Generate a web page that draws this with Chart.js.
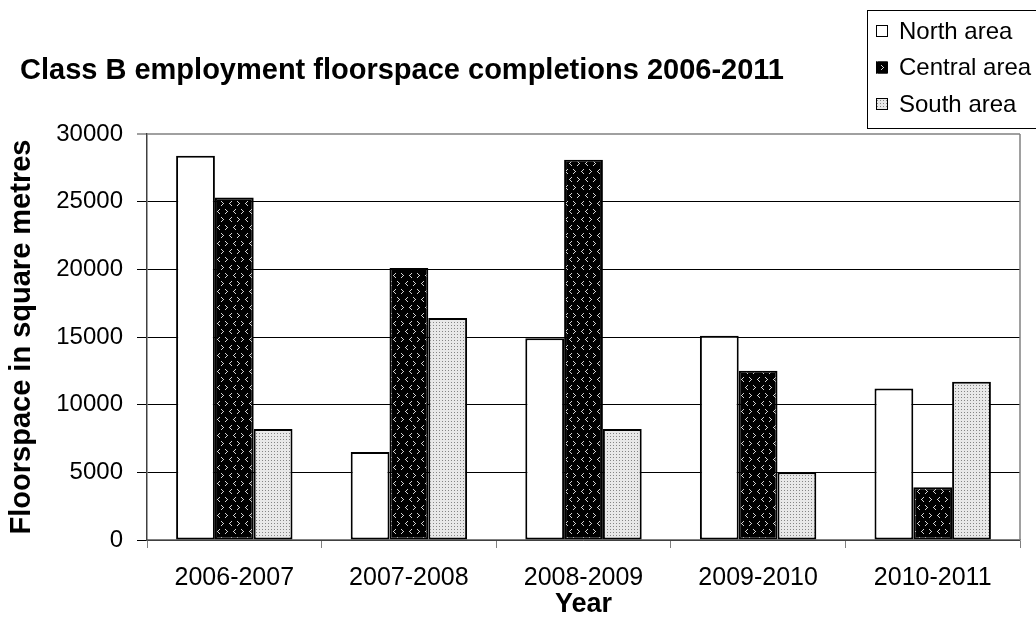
<!DOCTYPE html>
<html>
<head>
<meta charset="utf-8">
<script src="https://cdn.jsdelivr.net/npm/chart.js@4.4.0/dist/chart.umd.min.js"></script>
<style>
  html, body { margin: 0; padding: 0; background: #fff; }
  #wrap { width: 1036px; height: 622px; position: relative; }
</style>
</head>
<body>
<div id="wrap"><canvas id="chart"></canvas></div>
<script>
// --- data ---
const years = ['2006-2007', '2007-2008', '2008-2009', '2009-2010', '2010-2011'];
const northArea = [28400, 6500, 14900, 15100, 11200];
const centralArea = [25300, 20100, 28100, 12500, 3900];
const southArea = [8200, 16400, 8200, 5000, 11700];
const seriesNames = ['North area', 'Central area', 'South area'];
const yMin = 0, yMax = 30000, yStep = 5000;

const FONT = "'Liberation Sans', Arial, sans-serif";

// --- fill patterns (Excel style) ---
function makePattern(w, h, bg, color, pixels) {
    const c = document.createElement('canvas');
    c.width = w; c.height = h;
    const g = c.getContext('2d');
    g.fillStyle = bg;
    g.fillRect(0, 0, w, h);
    g.fillStyle = color;
    pixels.forEach(p => g.fillRect(p[0], p[1], 1, 1));
    return g.createPattern(c, 'repeat');
}

// black with little grey chevrons
const chevronPattern = makePattern(16, 16, '#000', '#d4d4d4', [
    [1, 1], [2, 2], [3, 3], [2, 4], [1, 5],        // >
    [11, 1], [10, 2], [9, 3], [10, 4], [11, 5],    // <
    [7, 9], [6, 10], [5, 11], [6, 12], [7, 13],    // <
    [13, 9], [14, 10], [15, 11], [14, 12], [13, 13] // >
]);
// light grey dots
const dotPattern = makePattern(3, 3, '#e8e8e8', '#858585', [[1, 1]]);

const fills = ['#ffffff', chevronPattern, dotPattern];

// right side of the plot frame
const plotFrame = {
    id: 'plotFrame',
    beforeDatasetsDraw(chart) {
        const { ctx, chartArea } = chart;
        ctx.save();
        ctx.strokeStyle = '#808080';
        ctx.lineWidth = 1.5;
        ctx.beginPath();
        ctx.moveTo(chartArea.right, chartArea.top);
        ctx.lineTo(chartArea.right, chartArea.bottom);
        ctx.stroke();
        ctx.restore();
    }
};

// boxed legend in the top right corner
const boxedLegend = {
    id: 'boxedLegend',
    afterDraw(chart) {
        const ctx = chart.ctx;
        const left = 867, top = 10, width = 175, height = 118;
        ctx.save();
        ctx.fillStyle = '#fff';
        ctx.fillRect(left, top, width, height);
        ctx.strokeStyle = '#000';
        ctx.lineWidth = 1;
        ctx.strokeRect(left + 0.5, top + 0.5, width, height);
        ctx.font = '24px ' + FONT;
        ctx.textBaseline = 'middle';
        chart.data.datasets.forEach((ds, i) => {
            const cy = 31 + i * 36.5;
            ctx.fillStyle = ds.backgroundColor;
            ctx.fillRect(876, cy - 6, 12, 12);
            ctx.strokeStyle = '#000';
            ctx.lineWidth = 1;
            ctx.strokeRect(876.5, cy - 5.5, 11, 11);
            ctx.fillStyle = '#000';
            ctx.fillText(ds.label, 899, cy + 1);
        });
        ctx.restore();
    }
};

const ctx = document.getElementById('chart').getContext('2d');
new Chart(ctx, {
    type: 'bar',
    data: {
        labels: years,
        datasets: [northArea, centralArea, southArea].map((vals, i) => ({
            label: seriesNames[i],
            data: vals,
            backgroundColor: fills[i],
            borderColor: '#000',
            borderWidth: 2,
            borderSkipped: false,
            categoryPercentage: 2 / 3,
            barPercentage: 1
        }))
    },
    options: {
        responsive: true,
        maintainAspectRatio: false,
        animation: false,
        layout: { padding: { left: 20, right: 16, top: 0, bottom: 0 } },
        plugins: {
            legend: { display: false },
            tooltip: { enabled: false },
            title: {
                display: true,
                text: 'Class B employment floorspace completions 2006-2011',
                align: 'start',
                color: '#000',
                font: { family: FONT, size: 29, weight: 'bold' },
                padding: { top: 53.6, bottom: 45.6 }
            }
        },
        scales: {
            x: {
                grid: { drawOnChartArea: false, tickLength: 8, color: '#808080' },
                border: { color: '#808080', width: 1.5 },
                ticks: { color: '#000', padding: 15, font: { family: FONT, size: 25 } },
                title: {
                    display: true,
                    text: 'Year',
                    color: '#000',
                    font: { family: FONT, size: 27, weight: 'bold' },
                    padding: { top: 0, bottom: 1 }
                },
                afterFit(scale) { scale.height = 82; }
            },
            y: {
                min: yMin,
                max: yMax,
                grid: {
                    tickLength: 10,
                    color: c => (c.tick && c.tick.value === yMax) ? '#a0a0a0' : '#000',
                    lineWidth: c => (c.tick && c.tick.value === yMax) ? 2 : 1
                },
                border: { color: '#404040', width: 1.5 },
                ticks: {
                    stepSize: yStep,
                    color: '#000',
                    padding: 14,
                    font: { family: FONT, size: 24 },
                    callback: v => String(v)
                },
                title: {
                    display: true,
                    text: 'Floorspace in square metres',
                    color: '#000',
                    font: { family: FONT, size: 29, weight: 'bold' },
                    padding: { top: -15.4, bottom: 0 }
                },
                afterFit(scale) { scale.width = 127; }
            }
        }
    },
    plugins: [plotFrame, boxedLegend]
});
</script>
</body>
</html>
